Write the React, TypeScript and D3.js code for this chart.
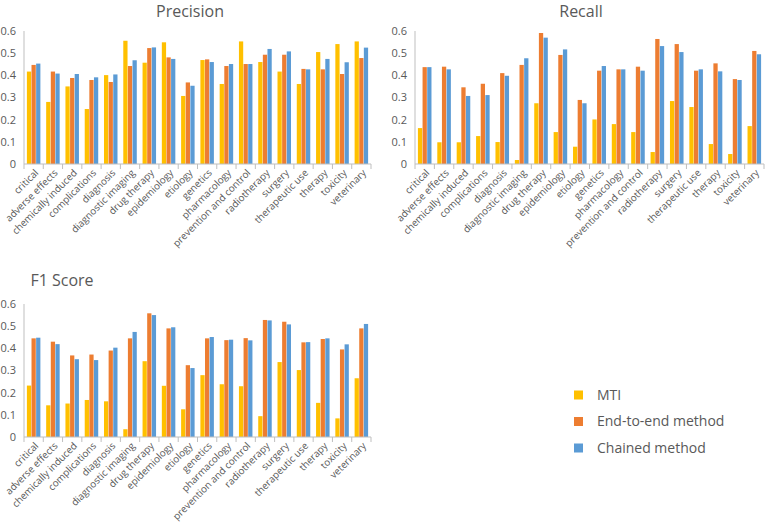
import React from "react";
import * as d3 from "d3";

const categories = [
  "critical", "adverse effects", "chemically induced", "complications", "diagnosis",
  "diagnostic imaging", "drug therapy", "epidemiology", "etiology", "genetics",
  "pharmacology", "prevention and control", "radiotherapy", "surgery",
  "therapeutic use", "therapy", "toxicity", "veterinary",
];

const seriesNames = ["MTI", "End-to-end method", "Chained method"];
const colors = ["#FFC000", "#ED7D31", "#5B9BD5"];
const yTicks = [0, 0.1, 0.2, 0.3, 0.4, 0.5, 0.6];

const precisionMTI = [0.417, 0.28, 0.35, 0.248, 0.401, 0.556, 0.457, 0.549, 0.307, 0.469, 0.361, 0.553, 0.46, 0.417, 0.361, 0.505, 0.541, 0.553];
const precisionE2E = [0.447, 0.417, 0.388, 0.379, 0.37, 0.442, 0.523, 0.481, 0.368, 0.472, 0.442, 0.451, 0.493, 0.493, 0.429, 0.427, 0.406, 0.478];
const precisionChained = [0.453, 0.408, 0.406, 0.391, 0.404, 0.468, 0.526, 0.474, 0.353, 0.46, 0.451, 0.451, 0.519, 0.508, 0.427, 0.474, 0.459, 0.525];

const recallMTI = [0.162, 0.098, 0.098, 0.126, 0.099, 0.018, 0.274, 0.144, 0.078, 0.201, 0.18, 0.144, 0.054, 0.284, 0.257, 0.09, 0.045, 0.171];
const recallE2E = [0.437, 0.439, 0.346, 0.362, 0.41, 0.447, 0.591, 0.492, 0.289, 0.421, 0.427, 0.439, 0.564, 0.541, 0.421, 0.454, 0.383, 0.51];
const recallChained = [0.437, 0.427, 0.307, 0.311, 0.398, 0.477, 0.57, 0.517, 0.274, 0.442, 0.427, 0.421, 0.532, 0.505, 0.427, 0.418, 0.379, 0.495];

const f1MTI = [0.232, 0.143, 0.151, 0.167, 0.161, 0.035, 0.342, 0.231, 0.125, 0.279, 0.238, 0.229, 0.094, 0.338, 0.302, 0.154, 0.084, 0.265];
const f1E2E = [0.445, 0.43, 0.368, 0.372, 0.39, 0.445, 0.558, 0.49, 0.324, 0.445, 0.437, 0.446, 0.528, 0.52, 0.427, 0.442, 0.395, 0.49];
const f1Chained = [0.448, 0.419, 0.351, 0.347, 0.403, 0.474, 0.55, 0.495, 0.311, 0.451, 0.439, 0.436, 0.526, 0.508, 0.428, 0.445, 0.418, 0.51];

const font = "'Open Sans', 'Noto Sans', sans-serif";
const gray = "#595959";
const axisGray = "#BFBFBF";

type PanelProps = {
  title: string;
  titleX: number;
  titleY: number;
  left: number;
  right: number;
  top: number;
  bottom: number;
  series: number[][];
};

function Panel({ title, titleX, titleY, left, right, top, bottom, series }: PanelProps) {
  const x = d3.scaleBand<string>().domain(categories).range([left, right]);
  const y = d3.scaleLinear().domain([0, 0.6]).range([bottom, top]);
  const groupW = x.bandwidth() * 0.7;
  const inner = d3.scaleBand<number>().domain([0, 1, 2]).range([0, groupW]).paddingInner(0.08);
  const fmt = (v: number) => (v === 0 ? "0" : d3.format(".1f")(v));

  return (
    <g>
      <text x={titleX} y={titleY} textAnchor="middle" fontFamily={font} fontSize={16} fill={gray}>
        {title}
      </text>
      {yTicks.map((t) => (
        <text key={t} x={left - 8} y={y(t)} dy="0.35em" textAnchor="end" fontFamily={font} fontSize={11} fill={gray}>
          {fmt(t)}
        </text>
      ))}
      <line x1={left} x2={left} y1={top} y2={bottom} stroke={axisGray} />
      {series.map((vals, s) =>
        vals.map((v, i) => {
          const bx = (x(categories[i]) as number) + (x.bandwidth() - groupW) / 2 + (inner(s) as number);
          return <rect key={s + "-" + i} x={bx} y={y(v)} width={inner.bandwidth()} height={bottom - y(v)} fill={colors[s]} />;
        })
      )}
      <line x1={left} x2={right} y1={bottom} y2={bottom} stroke={axisGray} />
      {categories.map((c, i) => (
        <line key={"t" + i} x1={x(c) as number} x2={x(c) as number} y1={bottom} y2={bottom + 5} stroke={axisGray} />
      ))}
      <line x1={right} x2={right} y1={bottom} y2={bottom + 5} stroke={axisGray} />
      {categories.map((c) => {
        const cx = (x(c) as number) + x.bandwidth() / 2 + 3;
        const cy = bottom + 7;
        return (
          <text key={"l" + c} transform={`translate(${cx},${cy}) rotate(-45)`} textAnchor="end" dy="0.35em" fontFamily={font} fontSize={9.8} fill={gray}>
            {c}
          </text>
        );
      })}
    </g>
  );
}

export default function App() {
  return (
    <svg width={767} height={524} style={{ position: "absolute", left: 0, top: 0, background: "#fff" }}>
      <Panel title="Precision" titleX={190} titleY={17} left={24} right={371} top={31} bottom={164} series={[precisionMTI, precisionE2E, precisionChained]} />
      <Panel title="Recall" titleX={581} titleY={17} left={415} right={764} top={31} bottom={164} series={[recallMTI, recallE2E, recallChained]} />
      <Panel title="F1 Score" titleX={62} titleY={286} left={24} right={371} top={304} bottom={437} series={[f1MTI, f1E2E, f1Chained]} />
      {seriesNames.map((n, i) => (
        <g key={n} transform={`translate(574,${395 + i * 26.5})`}>
          <rect x={0} y={-4.5} width={9} height={9} fill={colors[i]} />
          <text x={23} y={0} dy="0.35em" fontFamily={font} fontSize={14} fill={gray}>
            {n}
          </text>
        </g>
      ))}
    </svg>
  );
}
